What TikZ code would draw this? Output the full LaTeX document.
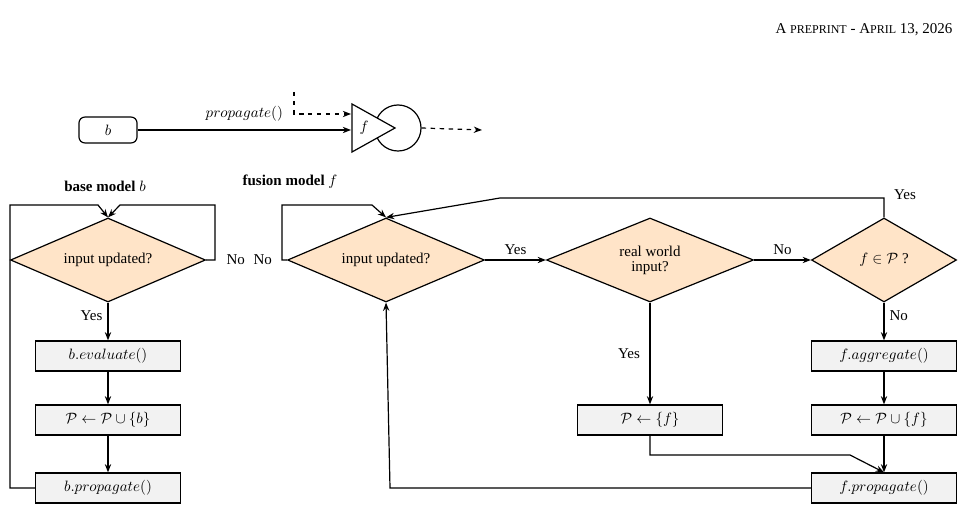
\documentclass[tikz,border=0pt]{standalone}
\usepackage{amsmath,amssymb}
\usepackage{fontspec}
\setmainfont{Liberation Serif}
\usetikzlibrary{shapes.geometric,arrows.meta}
\definecolor{peach}{RGB}{255,228,200}
\definecolor{boxgray}{RGB}{242,242,242}
\tikzset{
  decision/.style={diamond,draw,fill=peach,aspect=2.3,inner sep=0pt,minimum width=#1,minimum height=56pt,align=center},
  process/.style={draw,fill=boxgray,minimum width=96.7pt,minimum height=20pt},
  flow/.style={-{Stealth[length=5.5pt,width=4.2pt]}}
}
\begin{document}
\begin{tikzpicture}[x=0.6667pt,y=-0.6667pt,line width=0.8pt]
        \useasboundingbox (0,0) rectangle (963,516);
        \node[anchor=east] (hdr) at (958,30) {A {\footnotesize PREPRINT} - A{\footnotesize PRIL} 13, 2026};
        % top legend
        \node[draw,rounded corners=4pt,minimum width=38.7pt,minimum height=17.3pt] (b) at (108,130) {$b$};
        \node[draw,circle,minimum size=30.7pt,inner sep=0pt] (circ) at (398,128) {};
        \draw[fill=white] (352,104) -- (395,128) -- (352,152) -- cycle;
        \node (f) at (364,128) {$f$};
        \coordinate (tin) at (351,130);
        \coordinate (din) at (351,114);
        \coordinate (dtop) at (294,92);
        \coordinate (dout) at (482,130);
        \draw[flow] (b) -- node[above=2pt] {$propagate()$} (tin);
        \draw[flow,dashed] (dtop) |- (din);
        \draw[flow,dashed] (circ.east) -- (dout);
        % base model
        \node (bhead) at (105,186) {\textbf{base model} $b$};
        \node[decision=130pt] (bin) at (108,260) {input updated?};
        \node[process] (beval) at (108,356) {$b.evaluate()$};
        \node[process] (bpool) at (108,420) {$\mathcal{P}\leftarrow\mathcal{P}\cup\{b\}$};
        \node[process] (bprop) at (108,488) {$b.propagate()$};
        \draw[flow] (bin) -- node[left,pos=0.35] {Yes} (beval);
        \draw[flow] (beval) -- (bpool);
        \draw[flow] (bpool) -- (bprop);
        \draw[flow] (bprop.west) -- (10,488) -- (10,205) -- (98,205) -- (bin.north);
        \draw[flow] (bin.east) -- (215,260) node[right=4pt] {No} -- (215,205) -- (120,205) -- (bin.north);
        % fusion model
        \node (fhead) at (290,182) {\textbf{fusion model} $f$};
        \node[decision=131.3pt] (fin) at (386,260) {input updated?};
        \node[decision=138pt] (real) at (650,260) {real world\\[-2pt]input?};
        \node[decision=96.7pt,aspect=1.7] (member) at (884,260) {$f\in\mathcal{P}$ ?};
        \node[process] (fagg) at (884,356) {$f.aggregate()$};
        \node[process] (fpool) at (884,420) {$\mathcal{P}\leftarrow\mathcal{P}\cup\{f\}$};
        \node[process] (fset) at (650,420) {$\mathcal{P}\leftarrow\{f\}$};
        \node[process] (fprop) at (884,488) {$f.propagate()$};
        \draw[flow] (fin.west) -- (282,260) node[left=3pt] {No} -- (282,205) -- (372,205) -- (fin.north);
        \draw[flow] (fin) -- node[above] {Yes} (real);
        \draw[flow] (real) -- node[above] {No} (member);
        \draw[flow] (member.north) -- (884,198) node[anchor=west,xshift=3pt,yshift=2pt] {Yes} -- (500,198) -- (fin.north);
        \draw[flow] (member) -- node[right,pos=0.35] {No} (fagg);
        \draw[flow] (fagg) -- (fpool);
        \draw[flow] (fpool) -- (fprop);
        \draw[flow] (real) -- node[left=3pt] {Yes} (fset);
        \draw[flow] (fset.south) -- (650,455) -- (850,455) -- (fprop.north);
        \draw[flow] (fprop.west) -- (390,488) -- (fin.south);
\end{tikzpicture}
\end{document}
